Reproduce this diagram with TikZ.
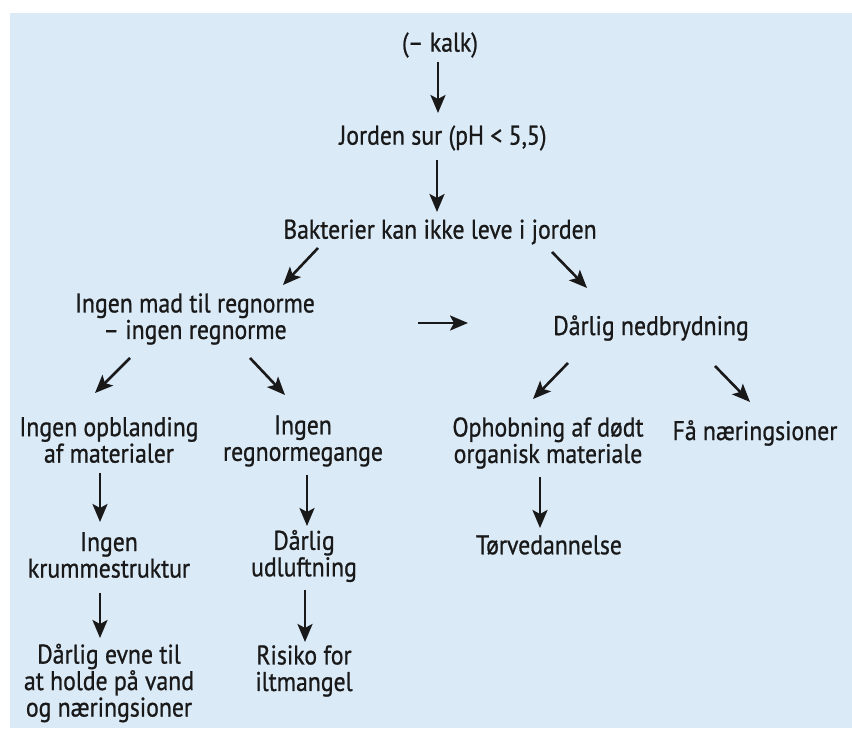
\documentclass[tikz,border=0pt]{standalone}
\usepackage{fontspec}
\setmainfont[FakeStretch=0.88,FakeBold=0.8]{PT Sans}
\usetikzlibrary{arrows.meta}
\usepackage{color}
\definecolor{paleblue}{RGB}{219,234,247}
\definecolor{ink}{RGB}{25,25,25}

\begin{document}
\begin{tikzpicture}[x=0.5pt,y=-0.5pt]
\useasboundingbox (0,0) rectangle (852,737);
\fill [paleblue] (10,13) rectangle (852,728);

\begin{scope}[every node/.style={align=center,text=ink,inner sep=1pt,font=\fontsize{13.5}{13.25}\selectfont}]
\node (1) at (440,45) {(– kalk)};
\node (2) at (443,138) {Jorden sur (pH < 5,5)};
\node (3) at (440,232) {Bakterier kan ikke leve i jorden};
\node (4) at (195,319) {Ingen mad til regnorme\\– ingen regnorme};
\node (5) at (651,328) {Dårlig nedbrydning};
\node (6) at (109,440) {Ingen opblanding\\af materialer};
\node (7) at (303,441) {Ingen\\regnormegange};
\node (8) at (548,443) {Ophobning af dødt\\organisk materiale};
\node (9) at (755,433) {Få næringsioner};
\node (10) at (109,555) {Ingen\\krummestruktur};
\node (11) at (304,556) {Dårlig\\udluftning};
\node (12) at (549,545) {Tørvedannelse};
\node (13) at (109,683) {Dårlig evne til\\at holde på vand\\og næringsioner};
\node (14) at (304,671) {Risiko for\\iltmangel};
\end{scope}

\begin{scope}[>={Stealth[ink,length=9pt,width=7.5pt,inset=2pt]}]

\draw [->, ink, line width=1.3pt] ([shift={(-2,17)}]1.center) -- ([shift={(-5,-25)}]2.center);
\draw [->, ink, line width=1.3pt] ([shift={(-6,22)}]2.center) -- ([shift={(-3,-20)}]3.center);
\draw [->, ink, line width=1.3pt] ([shift={(-122,16)}]3.center) -- ([shift={(88,-34)}]4.center);
\draw [->, ink, line width=1.3pt] ([shift={(112,20)}]3.center) -- ([shift={(-64,-40)}]5.center);
\draw [->, ink, line width=1.3pt] ([shift={(223,4)}]4.center) -- ([shift={(-183,-5)}]5.center);
\draw [->, ink, line width=1.3pt] ([shift={(-65,39)}]4.center) -- ([shift={(-14,-47)}]6.center);
\draw [->, ink, line width=1.3pt] ([shift={(55,39)}]4.center) -- ([shift={(-18,-46)}]7.center);
\draw [->, ink, line width=1.3pt] ([shift={(-83,35)}]5.center) -- ([shift={(-15,-44)}]8.center);
\draw [->, ink, line width=1.3pt] ([shift={(64,38)}]5.center) -- ([shift={(-5,-31)}]9.center);
\draw [->, ink, line width=1.3pt] ([shift={(-9,33)}]6.center) -- ([shift={(-9,-33)}]10.center);
\draw [->, ink, line width=1.3pt] ([shift={(-9,38)}]10.center) -- ([shift={(-9,-45)}]13.center);
\draw [->, ink, line width=1.3pt] ([shift={(4,34)}]7.center) -- ([shift={(3,-30)}]11.center);
\draw [->, ink, line width=1.3pt] ([shift={(1,34)}]11.center) -- ([shift={(1,-29)}]14.center);
\draw [->, ink, line width=1.3pt] ([shift={(-8,34)}]8.center) -- ([shift={(-9,-17)}]12.center);

\end{scope}
\end{tikzpicture}
\end{document}
